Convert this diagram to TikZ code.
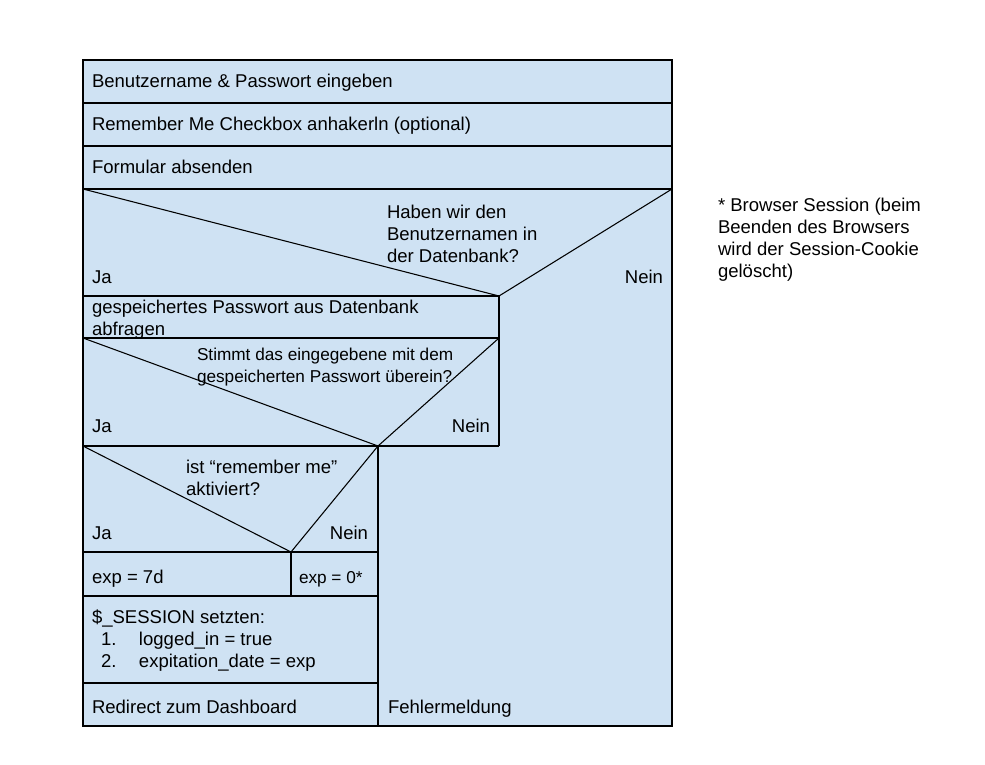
\documentclass[tikz,border=0pt]{standalone}
\usepackage{fontspec}
\setmainfont{Liberation Sans}
\usetikzlibrary{positioning}
\definecolor{nsblue}{HTML}{CFE2F3}
\newcommand\normtxt{\fontsize{13.9}{16.5}\selectfont}
\newcommand\smalltxt{\fontsize{12.9}{16.5}\selectfont}
\tikzstyle{txt} = [anchor=base west,align=left,inner sep=0,outer sep=0,font=\normtxt]
\tikzstyle{txtr} = [anchor=base east,inner sep=0,outer sep=0,font=\normtxt]
\tikzstyle{small} = [anchor=base west,align=left,inner sep=0,outer sep=0,font=\smalltxt]
\tikzstyle{rule} = [draw=black,line width=0.8pt]
\begin{document}
\begin{tikzpicture}[x=0.75pt,y=-0.75pt]
    \useasboundingbox (0,0) rectangle (985,764);
    \draw [rule,fill=nsblue] (83,60) rectangle (672,726);
    \draw [rule] (83,103) -- (672,103);
    \draw [rule] (83,146) -- (672,146);
    \draw [rule] (83,189) -- (672,189);
    \draw [rule] (83,189) -- (499,296) -- (672,189);
    \draw [rule] (83,296) -- (499,296) -- (499,446);
    \draw [rule] (83,338) -- (499,338);
    \draw [rule] (83,338) -- (378,446) -- (499,338);
    \draw [rule] (83,446) -- (499,446);
    \draw [rule] (378,446) -- (378,726);
    \draw [rule] (83,446) -- (291,552) -- (378,446);
    \draw [rule] (83,552) -- (378,552);
    \draw [rule] (291,552) -- (291,596);
    \draw [rule] (83,596) -- (378,596);
    \draw [rule] (83,683) -- (378,683);
    \node [txt] (v1) at (92,87) {Benutzername \& Passwort eingeben};
    \node [txt] (v2) at (92,130) {Remember Me Checkbox anhakerln (optional)};
    \node [txt] (v3) at (92,173) {Formular absenden};
    \node [txt] (v4) at (387,262) {Haben wir den\\Benutzernamen in\\der Datenbank?};
    \node [txt] (v5) at (92,283) {Ja};
    \node [txtr] (v6) at (663,283) {Nein};
    \node [txt] (v7) at (92,335) {gespeichertes Passwort aus Datenbank\\abfragen};
    \node [small] (v8) at (197,382) {Stimmt das eingegebene mit dem\\gespeicherten Passwort überein?};
    \node [txt] (v9) at (92,432) {Ja};
    \node [txtr] (v10) at (490,432) {Nein};
    \node [txt] (v11) at (186,495) {ist “remember me”\\aktiviert?};
    \node [txt] (v12) at (92,539) {Ja};
    \node [txtr] (v13) at (368,539) {Nein};
    \node [txt] (v14) at (92,583) {exp = 7d};
    \node [small] (v15) at (299,583) {exp = 0*};
    \node [txt] (v16) at (92,667) {\$\_SESSION setzten:\\
        \hspace*{6.75pt}\makebox[28.5pt][l]{1.}logged\_in = true\\
        \hspace*{6.75pt}\makebox[28.5pt][l]{2.}expitation\_date = exp};
    \node [txt] (v17) at (92,713) {Redirect zum Dashboard};
    \node [txt] (v18) at (388,713) {Fehlermeldung};
    \node [txt] (v19) at (718,277) {* Browser Session (beim\\Beenden des Browsers\\wird der Session-Cookie\\gelöscht)};
\end{tikzpicture}
\end{document}
